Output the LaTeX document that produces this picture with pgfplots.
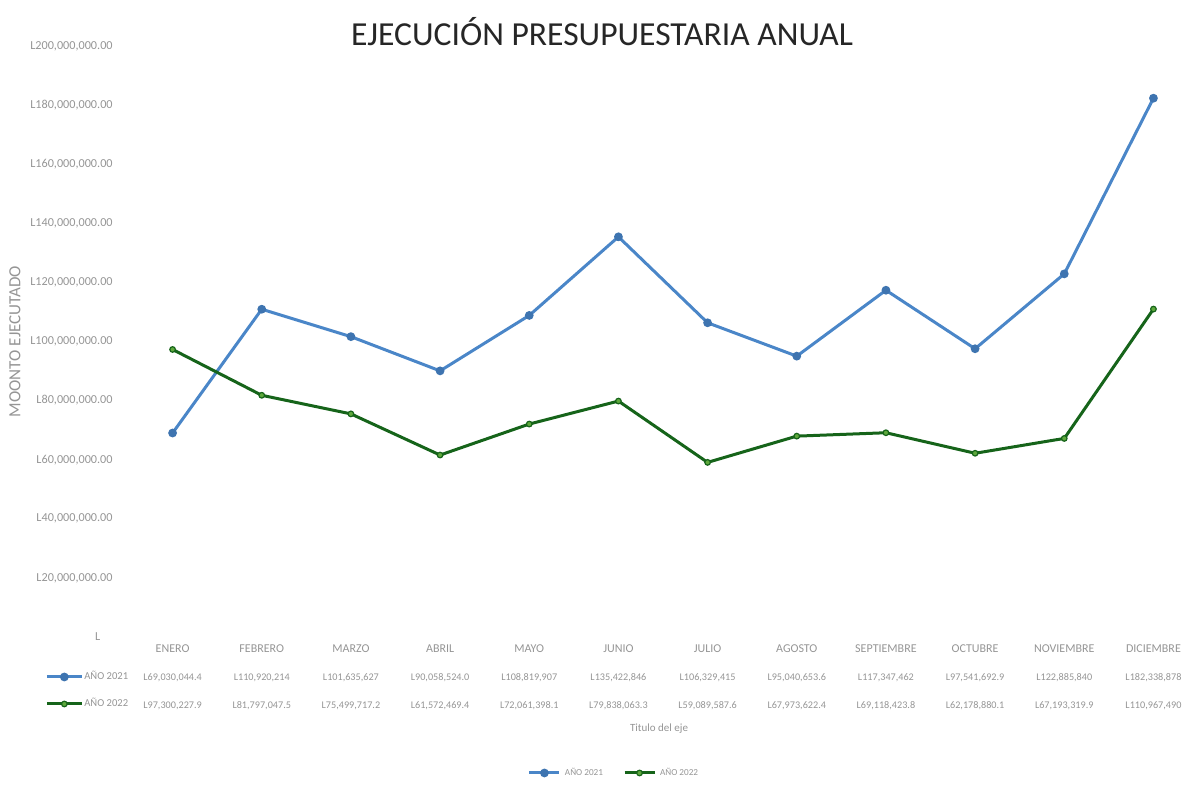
\documentclass[border=0pt]{standalone}
\usepackage{pgfplots}
\pgfplotsset{compat=1.18}
\usepackage{fontspec}
\setmainfont{Carlito}
\definecolor{blu}{HTML}{4A86C8}
\definecolor{blum}{HTML}{3E74B0}
\definecolor{grn}{HTML}{16641A}
\definecolor{grnm}{HTML}{5EA83C}
\definecolor{txt}{HTML}{959595}
\newcommand\tv[1]{{\fontsize{5.1}{14}\selectfont #1}}
\begin{document}
\begin{tikzpicture}[x=1pt,y=1pt]
\useasboundingbox (0,0) rectangle (595,393);
\node[font=\fontsize{16.8}{18}\selectfont, text=black!85] at (301,377) {EJECUCIÓN PRESUPUESTARIA ANUAL};
\begin{axis}[
  at={(64pt,74.5pt)}, anchor=south west, scale only axis,
  width=531pt, height=295.5pt,
  xmin=-0.5, xmax=11.41, ymin=0, ymax=200000000,
  scaled y ticks=false,
  axis line style={draw=none}, tick style={draw=none}, major tick length=0pt,
  ytick={0,20000000,40000000,60000000,80000000,100000000,120000000,140000000,160000000,180000000,200000000},
  yticklabels={{L\phantom{00}},{L20,000,000.00},{L40,000,000.00},{L60,000,000.00},{L80,000,000.00},{L100,000,000.00},{L120,000,000.00},{L140,000,000.00},{L160,000,000.00},{L180,000,000.00},{L200,000,000.00}},
  yticklabel style={anchor=east, inner sep=0pt, xshift=-7.5pt, font=\fontsize{6.1}{7}\selectfont, text=txt},
  xtick={0,1,2,3,4,5,6,7,8,9,10,11},
  xticklabels={
    {ENERO\\\tv{L69,030,044.4}\\\tv{L97,300,227.9}},
    {FEBRERO\\\tv{L110,920,214}\\\tv{L81,797,047.5}},
    {MARZO\\\tv{L101,635,627}\\\tv{L75,499,717.2}},
    {ABRIL\\\tv{L90,058,524.0}\\\tv{L61,572,469.4}},
    {MAYO\\\tv{L108,819,907}\\\tv{L72,061,398.1}},
    {JUNIO\\\tv{L135,422,846}\\\tv{L79,838,063.3}},
    {JULIO\\\tv{L106,329,415}\\\tv{L59,089,587.6}},
    {AGOSTO\\\tv{L95,040,653.6}\\\tv{L67,973,622.4}},
    {SEPTIEMBRE\\\tv{L117,347,462}\\\tv{L69,118,423.8}},
    {OCTUBRE\\\tv{L97,541,692.9}\\\tv{L62,178,880.1}},
    {NOVIEMBRE\\\tv{L122,885,840}\\\tv{L67,193,319.9}},
    {DICIEMBRE\\\tv{L182,338,878}\\\tv{L110,967,490}}},
  xticklabel style={align=center, anchor=north, inner sep=0pt, yshift=-3.5pt, font=\fontsize{6}{14}\selectfont, text=txt},
  ylabel={MOONTO EJECUTADO},
  ylabel style={at={(axis description cs:-0.1064,0.5)}, anchor=center, font=\fontsize{8.5}{9}\selectfont, text=txt},
  xlabel={Titulo del eje},
  xlabel style={at={(axis description cs:0.5,0)}, anchor=center, yshift=-46pt, font=\fontsize{5.5}{6}\selectfont, text=txt},
  legend image code/.code={\draw[mark repeat=2,mark phase=2] plot coordinates {(0pt,0pt)(7.5pt,0pt)(15pt,0pt)};},
  legend style={at={(axis description cs:0.4586,-0.2301)}, anchor=center, draw=none, fill=none,
    font=\fontsize{4.6}{5}\selectfont, text=txt, inner sep=0pt},
  legend columns=2,
  /tikz/every even column/.append style={column sep=8pt},
]
\addplot[blu, line width=1.5pt, mark=*, mark size=1.4pt, mark options={fill=blum, draw=blum}] coordinates {
(0,69030044.4) (1,110920214) (2,101635627) (3,90058524.0) (4,108819907) (5,135422846)
(6,106329415) (7,95040653.6) (8,117347462) (9,97541692.9) (10,122885840) (11,182338878)};
\addlegendentry{AÑO 2021}
\addplot[grn, line width=1.5pt, mark=*, mark size=1.4pt, mark options={fill=grnm, draw=grn, line width=0.6pt}] coordinates {
(0,97300227.9) (1,81797047.5) (2,75499717.2) (3,61572469.4) (4,72061398.1) (5,79838063.3)
(6,59089587.6) (7,67973622.4) (8,69118423.8) (9,62178880.1) (10,67193319.9) (11,110967490)};
\addlegendentry{AÑO 2022}
\end{axis}
\begin{axis}[
  at={(64pt,74.5pt)}, anchor=south west, scale only axis,
  width=531pt, height=295.5pt,
  xmin=-0.5, xmax=11.41, ymin=0, ymax=200000000, hide axis,
  legend image code/.code={\draw[mark repeat=2,mark phase=2] plot coordinates {(0pt,0pt)(8.75pt,0pt)(17.5pt,0pt)};},
  legend style={at={(axis description cs:-0.0782,-0.0905)}, anchor=west, draw=none, fill=none,
    font=\fontsize{5.3}{6}\selectfont, text=txt, inner sep=0pt, row sep=8pt,
    nodes={inner sep=0.5pt, text height=3.6pt, text depth=0.9pt}},
  legend cell align=left,
]
\addplot[draw=none, forget plot] coordinates {(0,0)};
\addlegendimage{blu, line width=1.5pt, mark=*, mark size=1.4pt, mark options={fill=blum, draw=blum}}
\addlegendentry{AÑO 2021}
\addlegendimage{grn, line width=1.5pt, mark=*, mark size=1.4pt, mark options={fill=grnm, draw=grn, line width=0.6pt}}
\addlegendentry{AÑO 2022}
\end{axis}
\end{tikzpicture}
\end{document}
